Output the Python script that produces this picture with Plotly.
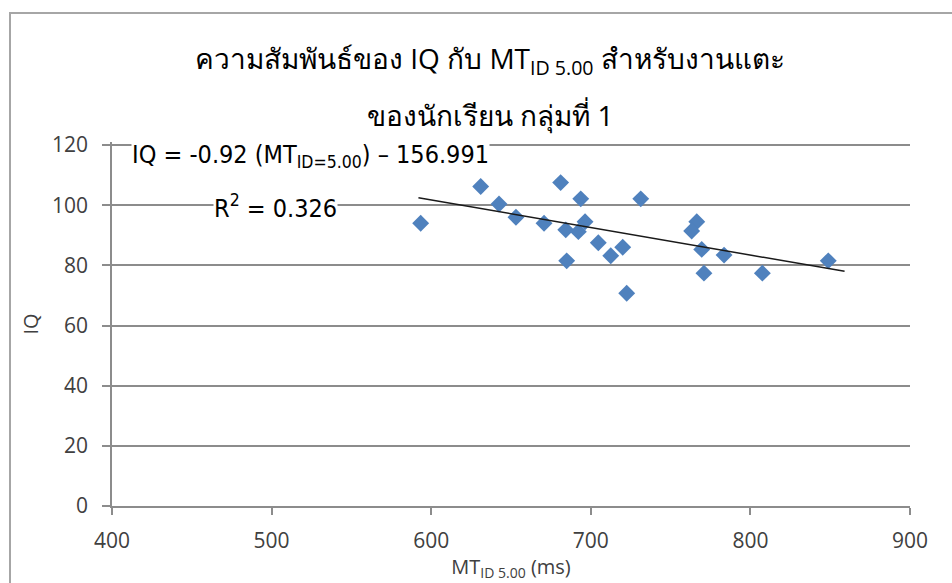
import plotly.graph_objects as go

# Data
mt_ms = [593.4, 631.0, 642.5, 653.1, 670.7, 681.1, 693.7, 684.3, 692.2, 696.4,
         684.9, 704.7, 712.5, 720.0, 731.3, 722.5, 766.4, 763.2, 769.5, 770.9,
         783.5, 807.5, 848.8]
iq = [94.0, 106.2, 100.4, 96.0, 94.0, 107.5, 102.1, 91.8, 91.2, 94.5,
      81.5, 87.5, 83.2, 86.0, 102.1, 70.7, 94.5, 91.4, 85.3, 77.4,
      83.4, 77.4, 81.5]
trend_x = [592.0, 859.0]
trend_y = [102.5, 78.0]
x_ticks = [400, 500, 600, 700, 800, 900]
y_ticks = [0, 20, 40, 60, 80, 100, 120]

title_l1 = "ความสัมพันธ์ของ IQ กับ MT<sub>ID 5.00</sub> สำหรับงานแตะ"
title_l2 = "ของนักเรียน กลุ่มที่ 1"
eq_text = "IQ = -0.92 (MT<sub>ID=5.00</sub>) – 156.991"
r2_text = "R<sup>2</sup> = 0.326"

FONT = "Liberation Sans Narrow, DejaVu Sans Condensed, Liberation Sans, Noto Sans, sans-serif"
TICKFONT = "Open Sans, Noto Sans, DejaVu Sans, sans-serif"

L, R, T, B = 112, 42, 142, 77
PW, PH = 952 - L - R, 583 - T - B


def px(xp):
    return (xp - L) / PW


def py(yp):
    return 1 - (yp - T) / PH


fig = go.Figure()
fig.add_trace(go.Scatter(
    x=mt_ms, y=iq, mode="markers",
    marker=dict(symbol="diamond", size=13, color="#4F81BD"),
    showlegend=False, hoverinfo="x+y"))
fig.add_trace(go.Scatter(
    x=trend_x, y=trend_y, mode="lines",
    line=dict(color="#1a1a1a", width=1.5),
    showlegend=False, hoverinfo="skip"))

fig.update_layout(
    width=952, height=583,
    margin=dict(l=L, r=R, t=T, b=B),
    paper_bgcolor="white", plot_bgcolor="white",
    xaxis=dict(range=[400, 900], tickvals=x_ticks, showgrid=False,
               showline=True, linecolor="#8c8c8c", linewidth=1.5,
               ticks="outside", ticklen=7, tickcolor="#8c8c8c", tickwidth=1.5,
               zeroline=False, ticklabelstandoff=8, automargin=False,
               tickfont=dict(family=TICKFONT, size=21, color="#404040"),
               title=dict(text="MT<sub>ID 5.00</sub> (ms)",
                          font=dict(family=TICKFONT, size=20, color="#404040"),
                          standoff=7)),
    yaxis=dict(range=[0, 121], tickvals=y_ticks, showgrid=True,
               gridcolor="#8c8c8c", gridwidth=1.5,
               showline=True, linecolor="#8c8c8c", linewidth=1.5,
               ticks="outside", ticklen=8, tickcolor="#8c8c8c", tickwidth=1.5,
               zeroline=False, ticklabelstandoff=10, automargin=False,
               tickfont=dict(family=TICKFONT, size=21, color="#404040"),
               title=dict(text="IQ", font=dict(family=TICKFONT, size=20, color="#404040"),
                          standoff=8)),
)

# outer chart border (extends past the right/bottom edge as in the reference)
fig.add_shape(type="rect", xref="paper", yref="paper",
              x0=px(10), x1=px(970), y0=py(620), y1=py(13),
              line=dict(color="#a6a6a6", width=2), fillcolor="rgba(0,0,0,0)",
              layer="below")

fig.add_annotation(xref="paper", yref="paper", x=px(490), y=py(60),
                   xanchor="center", yanchor="middle",
                   text=title_l1, showarrow=False,
                   font=dict(family=TICKFONT, size=28, color="#000000"))
fig.add_annotation(xref="paper", yref="paper", x=px(490), y=py(115),
                   xanchor="center", yanchor="middle",
                   text=title_l2, showarrow=False,
                   font=dict(family=TICKFONT, size=28, color="#000000"))

fig.add_annotation(xref="paper", yref="paper", x=px(310), y=py(156),
                   xanchor="center", yanchor="middle",
                   text=eq_text, showarrow=False,
                   bgcolor="white", borderpad=0,
                   font=dict(family=FONT, size=25, color="#000000"))
fig.add_annotation(xref="paper", yref="paper", x=px(275), y=py(206),
                   xanchor="center", yanchor="middle",
                   text=r2_text, showarrow=False,
                   bgcolor="white", borderpad=0,
                   font=dict(family=FONT, size=25, color="#000000"))

fig.write_html("out.html")
